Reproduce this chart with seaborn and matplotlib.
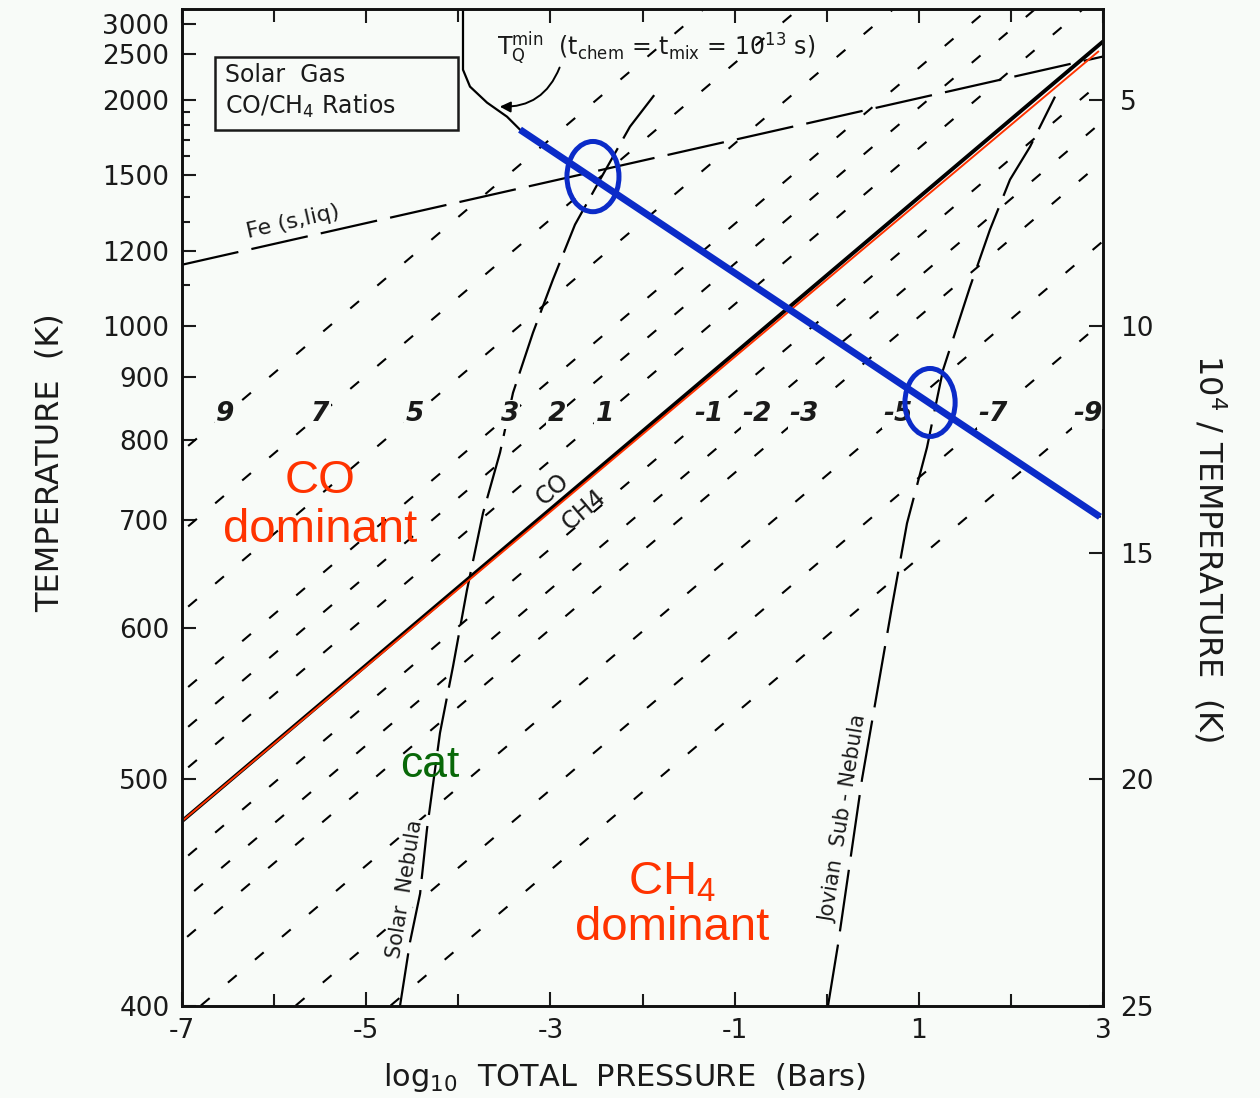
import numpy as np
import pandas as pd
import matplotlib
matplotlib.use("Agg")
import matplotlib.pyplot as plt
from matplotlib.patches import Ellipse, Rectangle
from matplotlib.ticker import FixedLocator
import seaborn as sns

# ---------------------------------------------------------------- data
# log10(CO/CH4) equilibrium contours: level and log10 P (bar) where each crosses 1000 K
ratio_levels = [9, 7, 5, 3, 2, 1, -1, -2, -3, -5, -7, -9]
ratio_logp_1000K = [-5.40, -4.37, -3.34, -2.31, -1.80, -1.28,
                    -0.15, 0.37, 0.88, 1.91, 2.94, 3.97]
ratio_slope = -1.722          # d(10^4/T) / d log10 P of the contours
ratio_label_T = 837           # temperature at which the contour labels sit

# CO = CH4 boundary (black) and its red overlay
boundary_logp = [-7.0, 3.0]
boundary_T = [478, 2690]
overlay_logp = [-7.0, 2.95]
overlay_T = [478, 2540]

# Fe (s, liq) condensation curve
fe_logp = [-7.0, 3.0]
fe_T = [1157, 2470]

# Solar nebula adiabat
solar_logp = [-4.633, -4.524, -4.415, -4.340, -4.199, -4.058, -3.906, -3.732,
              -3.547, -3.406, -3.189, -2.972, -2.733, -2.461, -2.136, -1.810]
solar_T = [400, 424, 444, 474, 527, 571, 632, 708,
           782, 872, 986, 1115, 1289, 1478, 1787, 2112]

# Jovian sub-nebula adiabat
jovian_logp = [0.014, 0.123, 0.383, 0.709, 0.872, 1.089, 1.263, 1.556,
               1.773, 1.990, 2.207, 2.479]
jovian_T = [400, 423, 500, 618, 697, 789, 912, 1095, 1271, 1478, 1655, 2027]

# Minimum quench temperature curve (t_chem = t_mix = 1e13 s)
tq_logp = [-3.949, -3.949, -3.873, -3.688, -3.471, -3.330, 2.967]
tq_T = [3400, 2304, 2122, 1974, 1860, 1766, 704]

# Highlighted quench line and its crossings with the two adiabats
quench_logp = [-3.330, 2.967]
quench_T = [1766, 704]
cross_logp = [-2.538, 1.122]
cross_T = [1493, 856]
cross_w = [0.565, 0.545]      # ellipse width in log10 P
cross_h = [1.55, 1.50]        # ellipse height in 10^4/T

# Axis ticks
x_major = [-7, -5, -3, -1, 1, 3]
x_minor = [-6, -4, -2, 0, 2]
T_major = [400, 500, 600, 700, 800, 900, 1000, 1200, 1500, 2000, 2500, 3000]
T_minor = [1100, 1300, 1400, 1600, 1700, 1800, 1900]
inv_major = [5, 10, 15, 20, 25]

# ---------------------------------------------------------------- style
BG = "#f8fbf8"
BLUE = "#0b2bc8"
RED = "#ff3300"
GREEN = "#086808"
INK = "#1a1a1a"

sns.set_theme(style="ticks")
plt.rcParams["font.family"] = ["DejaVu Sans"]
plt.rcParams["mathtext.fontset"] = "dejavusans"
plt.rcParams["mathtext.default"] = "regular"


def _fwd(t):
    t = np.asarray(t, dtype=float)
    with np.errstate(divide="ignore", invalid="ignore"):
        return -1e4 / t


def _inv(v):
    v = np.asarray(v, dtype=float)
    with np.errstate(divide="ignore", invalid="ignore"):
        return -1e4 / v


fig = plt.figure(figsize=(12.6, 10.98), dpi=100, facecolor=BG)
ax = fig.add_axes([182 / 1260, 1 - 1006 / 1098, 921 / 1260, 997 / 1098])
ax.set_facecolor(BG)
# temperature axis linear in 10^4 / T
ax.set_yscale("function", functions=(_fwd, _inv))
ax.set_xlim(-7, 3)
T_top = 1e4 / 3.0
ax.set_ylim(400, T_top)

# ---------------------------------------------------------------- contours
rows = []
for lev, lp in zip(ratio_levels, ratio_logp_1000K):
    for u in (26.0, 2.5):
        rows.append({"level": lev, "logP": lp + (u - 10.0) / ratio_slope, "T": 1e4 / u})
contours = pd.DataFrame(rows)
sns.lineplot(data=contours, x="logP", y="T", units="level", estimator=None,
             sort=False, color="black", lw=1.5, linestyle=(0, (5.5, 11.5)),
             ax=ax, legend=False)

for lev, lp in zip(ratio_levels, ratio_logp_1000K):
    u = 1e4 / ratio_label_T
    xl = lp + (u - 10.0) / ratio_slope
    ax.text(xl, ratio_label_T, f"{lev}", ha="center", va="center",
            fontsize=19, fontstyle="italic", fontweight="bold", color=INK,
            bbox=dict(facecolor=BG, edgecolor="none", pad=1.0), zorder=4)

# Fe condensation
sns.lineplot(x=fe_logp, y=fe_T, sort=False, estimator=None, color="black",
             lw=1.6, linestyle=(0, (26, 6)), ax=ax)
ax.text(-5.80, 1300, "Fe (s,liq)", rotation=12.7, ha="center", va="center",
        fontsize=16, color=INK, rotation_mode="anchor")

# adiabats
sns.lineplot(x=solar_logp, y=solar_T, sort=False, estimator=None, color="black",
             lw=1.6, linestyle=(0, (24, 5)), ax=ax)
sns.lineplot(x=jovian_logp, y=jovian_T, sort=False, estimator=None, color="black",
             lw=1.6, linestyle=(0, (28, 6)), ax=ax)
ax.text(-4.58, 446, "Solar  Nebula", rotation=81, ha="center", va="center",
        fontsize=15, color=INK, rotation_mode="anchor",
        bbox=dict(facecolor=BG, edgecolor="none", pad=0.5), zorder=4)
ax.text(0.18, 479, "Jovian  Sub - Nebula", rotation=81, ha="center", va="center",
        fontsize=15, color=INK, rotation_mode="anchor",
        bbox=dict(facecolor=BG, edgecolor="none", pad=0.5), zorder=4)

# CO = CH4 boundary
sns.lineplot(x=boundary_logp, y=boundary_T, sort=False, estimator=None,
             color="black", lw=2.8, ax=ax)
sns.lineplot(x=overlay_logp, y=overlay_T, sort=False, estimator=None,
             color=RED, lw=1.4, ax=ax)
ax.text(-2.98, 735, "CO", rotation=40.3, ha="center", va="center",
        fontsize=17, color=INK, rotation_mode="anchor")
ax.text(-2.64, 712, "CH4", rotation=40.3, ha="center", va="center",
        fontsize=17, color=INK, rotation_mode="anchor")

# quench curve
sns.lineplot(x=tq_logp, y=tq_T, sort=False, estimator=None, color="black",
             lw=1.6, ax=ax)
ax.text(-3.58, 2590,
        r"$\mathregular{T_Q^{min}}$  (t$_{chem}$ = t$_{mix}$ = 10$^{13}$ s)",
        ha="left", va="center", fontsize=17, color=INK)
ax.annotate("", xy=(-3.55, 1940), xytext=(-2.90, 2330),
            arrowprops=dict(arrowstyle="-|>", color="black", lw=1.4,
                            connectionstyle="arc3,rad=-0.35",
                            mutation_scale=16, shrinkA=0, shrinkB=0))

sns.lineplot(x=quench_logp, y=quench_T, sort=False, estimator=None,
             color=BLUE, lw=5, ax=ax, solid_capstyle="butt", zorder=5)

# region labels
ax.text(-5.50, 717, "CO\ndominant", ha="center", va="center", fontsize=34,
        color=RED, family="Liberation Sans", linespacing=1.15, zorder=6)
ax.text(-1.68, 439, "CH$_4$\ndominant", ha="center", va="center", fontsize=34,
        color=RED, family="Liberation Sans", linespacing=1.05, zorder=6,
        math_fontfamily="dejavusans")
ax.text(-4.31, 508, "cat", ha="center", va="center", fontsize=32,
        color=GREEN, family="Liberation Sans", zorder=6)

# title box
ax.add_patch(Rectangle((0.0358, 0.8786), 0.2638, 0.0732, transform=ax.transAxes,
                       facecolor="none", edgecolor=INK, lw=1.8, zorder=6))
ax.text(0.047, 0.934, "Solar  Gas", transform=ax.transAxes, ha="left",
        va="center", fontsize=17, color=INK)
ax.text(0.047, 0.902, "CO/CH$_4$ Ratios", transform=ax.transAxes, ha="left",
        va="center", fontsize=17, color=INK)

# ---------------------------------------------------------------- axes
ax.set_xticks(x_major, labels=[str(v) for v in x_major])
ax.xaxis.set_minor_locator(FixedLocator(x_minor))
ax.yaxis.set_major_locator(FixedLocator(T_major))
ax.set_yticklabels([str(v) for v in T_major])
ax.yaxis.set_minor_locator(FixedLocator(T_minor))
ax.yaxis.set_minor_formatter(plt.NullFormatter())
ax.tick_params(axis="both", which="both", direction="in", top=True,
               right=False, width=1.5, colors=INK, labelsize=19)
ax.tick_params(axis="both", which="major", length=10, pad=9)
ax.tick_params(axis="x", which="minor", length=9)
ax.tick_params(axis="y", which="minor", length=6)
ax.set_xlabel("")
ax.set_ylabel("")

ax2 = ax.twinx()
ax2.set_ylim(25, 3.0)
ax2.set_yticks(inv_major, labels=[str(v) for v in inv_major])
ax2.tick_params(axis="y", direction="in", length=10, width=1.5, pad=12,
                labelsize=19, colors=INK)
for a in (ax, ax2):
    for s in a.spines.values():
        s.set_linewidth(1.9)
        s.set_color("#111111")

for lp, t, w, h in zip(cross_logp, cross_T, cross_w, cross_h):
    ax2.add_patch(Ellipse((lp, 1e4 / t), w, h, facecolor="none",
                          edgecolor=BLUE, lw=3.6, zorder=7))

fig.text(50 / 1260, 1 - 463 / 1098, "TEMPERATURE  (K)", rotation=90,
         ha="center", va="center", fontsize=23, color=INK)
fig.text(1210 / 1260, 1 - 548 / 1098, "10$^4$ / TEMPERATURE  (K)", rotation=270,
         ha="center", va="center", fontsize=23, color=INK)
fig.text(625 / 1260, 1 - 1078 / 1098, "log$_{10}$  TOTAL  PRESSURE  (Bars)",
         ha="center", va="center", fontsize=22, color=INK)

fig.savefig("out.png", dpi=100, facecolor=BG)
